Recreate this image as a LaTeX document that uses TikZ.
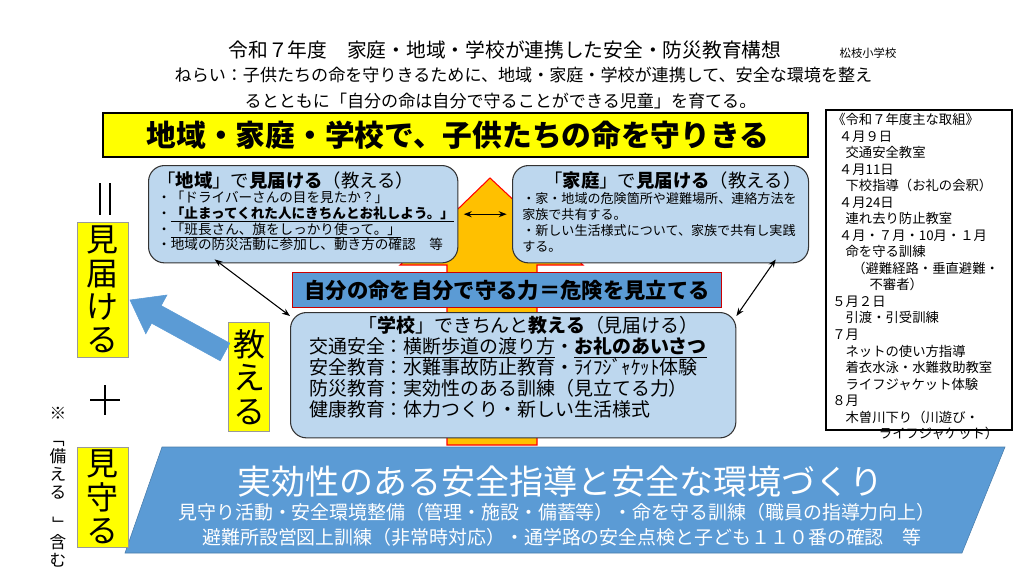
\documentclass[tikz,border=0pt]{standalone}
\usepackage{fontspec}
\setmainfont{Noto Sans CJK JP}
\usepackage{graphicx}
\usetikzlibrary{calc,arrows.meta}
\definecolor{lblue}{HTML}{BDD7EE}
\definecolor{mblue}{HTML}{5B9BD5}
\definecolor{orng}{HTML}{FFC000}
\definecolor{ylw}{HTML}{FFFF00}
\tikzset{
  panel/.style={draw=black!80,thick,fill=lblue,rounded corners=12pt,inner sep=4pt},
  tag/.style={draw=black!40,fill=ylw,inner sep=0pt,align=center,font=\fontsize{24pt}{25pt}\selectfont},
  link/.style={{Stealth[length=6pt]}-{Stealth[length=6pt]},thick}
}
\begin{document}
\begin{tikzpicture}[x=0.75pt,y=-0.75pt]
      \useasboundingbox (0,0) rectangle (1024,576);
      % heading
      \node (title) at (505,50) {\fontsize{14.8pt}{16pt}\selectfont 令和７年度　家庭・地域・学校が連携した安全・防災教育構想};
      \node (school) at (868,53) {\fontsize{8.5pt}{9pt}\selectfont 松枝小学校};
      \node[anchor=west] (aim1) at (170,75) {\fontsize{12.8pt}{14pt}\selectfont ねらい：子供たちの命を守りきるために、地域・家庭・学校が連携して、安全な環境を整え};
      \node[anchor=west] (aim2) at (240,101) {\fontsize{12.8pt}{14pt}\selectfont るとともに「自分の命は自分で守ることができる児童」を育てる。};
      % banner
      \draw[thick,fill=ylw] (103,113) rectangle (808,157);
      \node (banner) at (458,135) {\fontsize{22.3pt}{24pt}\selectfont\bfseries 地域・家庭・学校で、子供たちの命を守りきる};
      % big arrow
      \draw[red,thick,fill=orng] (447,445) -- (447,265) -- (400,265) -- (490,178)
        -- (583,265) -- (537,265) -- (537,445) -- cycle;
      % top panels
      \node[panel,minimum width=232pt,minimum height=73pt,anchor=north west] (local) at (148,165) {};
      \node[anchor=north west,align=left,inner sep=0pt,font=\fontsize{10.2pt}{11.8pt}\selectfont] (localtxt) at (157,171) {%
        {\fontsize{13.8pt}{15pt}\selectfont 「\textbf{地域}」で\textbf{見届ける}（教える）}\\
        ・「ドライバーさんの目を見たか？」\\
        ・\underline{\textbf{「止まってくれた人にきちんとお礼しよう。」}}\\
        ・\underline{「班長さん、旗をしっかり使って。」}\\
        ・地域の防災活動に参加し、動き方の確認　等};
      \node[panel,minimum width=222pt,minimum height=73pt,anchor=north west] (home) at (512,165) {};
      \node[anchor=north west,align=left,inner sep=0pt,font=\fontsize{9.8pt}{12pt}\selectfont] (hometxt) at (522,171) {%
        {\fontsize{13.8pt}{15pt}\selectfont \hspace*{1.2em}「\textbf{家庭}」で\textbf{見届ける}（教える）}\\
        ・家・地域の危険箇所や避難場所、連絡方法を\\
        家族で共有する。\\
        ・新しい生活様式について、家族で共有し実践\\
        する。};
      \draw[link] ($(local.east)+(4pt,0)$) -- ($(home.west)+(-4pt,0)$);
      % middle bar
      \node[draw=red!80!black,thick,fill=mblue,minimum width=322pt,minimum height=26pt] (power) at (507,290)
        {\fontsize{16pt}{18pt}\selectfont\bfseries 自分の命を自分で守る力＝危険を見立てる};
      % school panel
      \node[panel,minimum width=334pt,minimum height=94pt,anchor=north west] (gakko) at (290,312) {};
      \node[anchor=north,align=left,inner sep=0pt,font=\fontsize{14.2pt}{15.8pt}\selectfont] (gakkotxt) at (508,316) {%
        \hspace*{2.6em}「\textbf{学校}」できちんと\textbf{教える}（見届ける）\\
        交通安全：\underline{横断歩道の渡り方}・\underline{\textbf{お礼のあいさつ}}\\
        安全教育：水難事故防止教育・ﾗｲﾌｼﾞｬｹｯﾄ体験\\
        防災教育：実効性のある訓練（見立てる力）\\
        健康教育：体力つくり・新しい生活様式};
      \draw[link] ($(local.south west)+(50pt,3pt)$) -- ($(gakko.north west)+(0,-3pt)$);
      \draw[link] ($(home.south east)+(-25pt,3pt)$) -- ($(gakko.north east)+(0,-3pt)$);
      % bottom base
      \draw[mblue!80!black,fill=mblue] (162,447) -- (1005,447) -- (962,553) -- (125,553) -- cycle;
      \node[white] (base) at (560,482) {\fontsize{25.5pt}{27pt}\selectfont 実効性のある安全指導と安全な環境づくり};
      \node[white] (base1) at (557,512) {\fontsize{14.2pt}{15pt}\selectfont 見守り活動・安全環境整備（管理・施設・備蓄等）・命を守る訓練（職員の指導力向上）};
      \node[white] (base2) at (562,537) {\fontsize{14.2pt}{15pt}\selectfont 避難所設営図上訓練（非常時対応）・通学路の安全点検と子ども１１０番の確認　等};
      % left column
      \draw[very thick] (100,183) -- (100,215) (110,183) -- (110,215);
      \node[tag,minimum width=38pt,minimum height=101pt] (watch) at (102.5,289.5) {見\\届\\け\\る};
      \node[tag,minimum width=31pt,minimum height=82pt] (teach) at (249,377) {教\\え\\る};
      \draw[very thick] (90,400) -- (120,400) (105,385) -- (105,415);
      \node[tag,minimum width=38pt,minimum height=75pt] (guard) at (102.5,497) {見\\守\\る};
      \node (note) at (58,413) {\fontsize{12.5pt}{14pt}\selectfont ※};
      \node[align=center,inner sep=0pt,anchor=north,font=\fontsize{12.5pt}{13.5pt}\selectfont] (prep) at (58,430)
        {\rotatebox{-90}{「}\\備\\え\\る\\\rotatebox{-90}{」}\\含\\む};
      \draw[mblue,fill=mblue] (229.8,343.2) -- (161.2,305.6) -- (167,295) -- (130,300)
        -- (145.8,333.8) -- (151.6,323.2) -- (220.2,360.8) -- cycle;
      % schedule
      \draw[thick] (826,110) rectangle (1012,430);
      \node[anchor=north west,align=left,inner sep=0pt,font=\fontsize{10pt}{12.4pt}\selectfont] (plan) at (832,113) {%
        《令和７年度主な取組》\\
        \hspace*{0.5em}４月９日\\
        \hspace*{1em}交通安全教室\\
        \hspace*{0.5em}４月11日\\
        \hspace*{1em}下校指導（お礼の会釈）\\
        \hspace*{0.5em}４月24日\\
        \hspace*{1em}連れ去り防止教室\\
        \hspace*{0.5em}４月・７月・10月・１月\\
        \hspace*{1em}命を守る訓練\\
        \hspace*{1.5em}（避難経路・垂直避難・\\
        \hspace*{2.8em}不審者）\\
        ５月２日\\
        \hspace*{1em}引渡・引受訓練\\
        ７月\\
        \hspace*{1em}ネットの使い方指導\\
        \hspace*{1em}着衣水泳・水難救助教室\\
        \hspace*{1em}ライフジャケット体験\\
        ８月\\
        \hspace*{1em}木曽川下り（川遊び・\\
        \hspace*{3.5em}ライフジャケット）};
\end{tikzpicture}
\end{document}
